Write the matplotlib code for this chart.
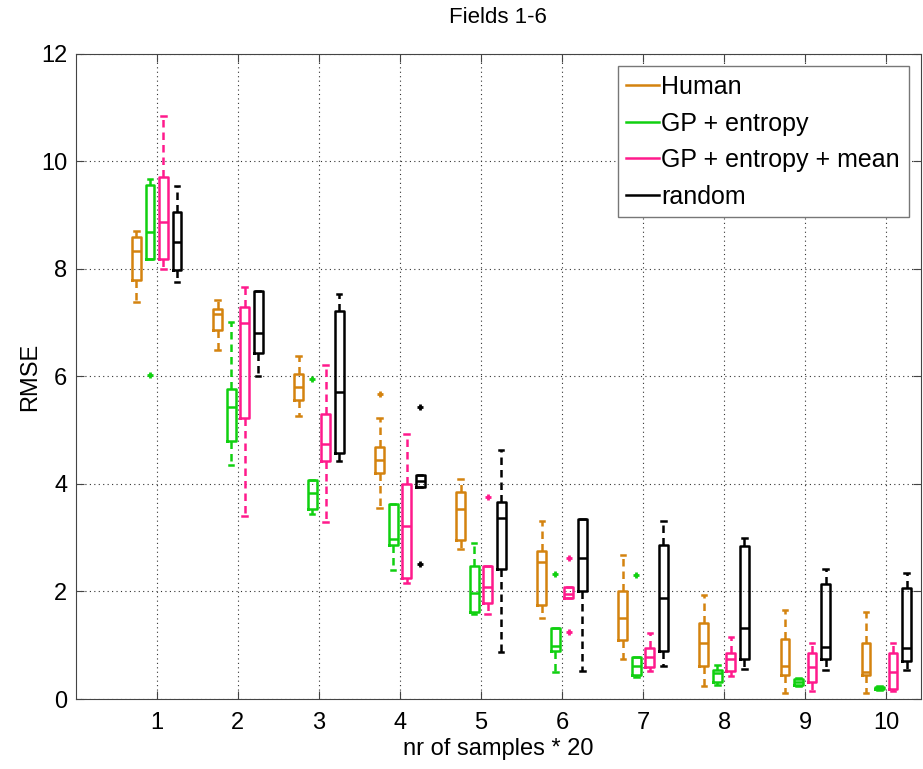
import matplotlib
matplotlib.use("Agg")
import matplotlib.pyplot as plt
from matplotlib.lines import Line2D
import numpy as np

plt.rcParams["font.family"] = ["Liberation Sans", "DejaVu Sans"]

# Sample counts (x groups).
groups = [1, 2, 3, 4, 5, 6, 7, 8, 9, 10]

# Box statistics per method: lower whisker, q1, median, q3, upper whisker.
human_lo = [7.39, 6.50, 5.27, 3.56, 2.79, 1.51, 0.74, 0.25, 0.12, 0.11]
human_q1 = [7.80, 6.87, 5.56, 4.20, 2.95, 1.74, 1.10, 0.61, 0.45, 0.44]
human_med = [8.34, 7.16, 5.81, 4.45, 3.53, 2.54, 1.51, 1.04, 0.61, 0.51]
human_q3 = [8.59, 7.25, 6.05, 4.69, 3.85, 2.76, 2.00, 1.42, 1.11, 1.05]
human_hi = [8.71, 7.42, 6.38, 5.23, 4.10, 3.31, 2.67, 1.93, 1.66, 1.61]
human_out = [[], [], [], [5.67], [], [], [], [], [], []]

ent_lo = [8.19, 4.35, 3.44, 2.40, 1.59, 0.50, 0.41, 0.26, 0.25, 0.17]
ent_q1 = [8.19, 4.79, 3.53, 2.87, 1.62, 0.90, 0.45, 0.32, 0.27, 0.19]
ent_med = [8.68, 5.44, 3.83, 2.97, 1.98, 0.99, 0.62, 0.48, 0.32, 0.20]
ent_q3 = [9.56, 5.76, 4.07, 3.63, 2.47, 1.32, 0.79, 0.54, 0.37, 0.22]
ent_hi = [9.67, 7.02, 4.07, 3.63, 2.90, 1.32, 0.79, 0.63, 0.40, 0.24]
ent_out = [[6.02], [], [5.96], [], [], [2.33], [2.31], [], [], []]

mean_lo = [8.00, 3.40, 3.29, 2.15, 1.58, 1.87, 0.53, 0.43, 0.14, 0.14]
mean_q1 = [8.19, 5.23, 4.42, 2.25, 1.78, 1.87, 0.59, 0.52, 0.31, 0.18]
mean_med = [8.87, 7.00, 4.74, 3.22, 2.08, 1.96, 0.78, 0.74, 0.60, 0.50]
mean_q3 = [9.71, 7.29, 5.30, 4.00, 2.48, 2.08, 0.94, 0.86, 0.85, 0.86]
mean_hi = [10.85, 7.67, 6.21, 4.93, 2.48, 2.08, 1.22, 1.16, 1.05, 1.05]
mean_out = [[], [], [], [], [3.75], [2.63, 1.24], [], [], [], []]

rand_lo = [7.76, 6.00, 4.42, 3.94, 0.87, 0.53, 0.61, 0.56, 0.54, 0.54]
rand_q1 = [7.98, 6.43, 4.57, 3.94, 2.41, 2.01, 0.89, 0.74, 0.74, 0.71]
rand_med = [8.50, 6.80, 5.71, 4.05, 3.37, 2.63, 1.87, 1.33, 0.96, 0.94]
rand_q3 = [9.05, 7.59, 7.22, 4.16, 3.67, 3.35, 2.86, 2.85, 2.14, 2.06]
rand_hi = [9.55, 7.59, 7.53, 4.16, 4.64, 3.35, 3.31, 3.00, 2.41, 2.35]
rand_out = [[], [], [], [5.44, 2.52], [], [], [], [], [], []]

labels = ["Human", "GP + entropy", "GP + entropy + mean", "random"]
colors = ["#D4830F", "#10D010", "#FF1A8C", "black"]
offsets = [-0.25, -0.083, 0.083, 0.25]

methods = [
    (human_lo, human_q1, human_med, human_q3, human_hi, human_out),
    (ent_lo, ent_q1, ent_med, ent_q3, ent_hi, ent_out),
    (mean_lo, mean_q1, mean_med, mean_q3, mean_hi, mean_out),
    (rand_lo, rand_q1, rand_med, rand_q3, rand_hi, rand_out),
]

fig = plt.figure(figsize=(9.23, 7.69), dpi=100)
ax = fig.add_axes([0.082, 0.091, 0.916, 0.839])

for (lo, q1, med, q3, hi, out), color, off in zip(methods, colors, offsets):
    stats = []
    for i in range(len(groups)):
        stats.append({"whislo": lo[i], "q1": q1[i], "med": med[i], "q3": q3[i],
                      "whishi": hi[i], "fliers": out[i]})
    ax.bxp(stats, positions=[g + off for g in groups], widths=0.11,
           manage_ticks=False,
           boxprops=dict(color=color, linewidth=1.8),
           whiskerprops=dict(color=color, linewidth=1.8, linestyle=(0, (3, 2))),
           capprops=dict(color=color, linewidth=1.8),
           medianprops=dict(color=color, linewidth=1.8),
           flierprops=dict(marker="+", markeredgecolor=color, markersize=5,
                           markeredgewidth=2))

ax.set_xlim(0, 10.43)
ax.set_ylim(0, 12)
ax.set_xticks(groups)
ax.set_yticks(np.arange(0, 13, 2))
ax.grid(True, linestyle=(0, (1, 3)), color="#333333", linewidth=0.8)
ax.tick_params(axis="both", direction="in", top=True, right=True, labelsize=17,
               length=6, color="#444444")
ax.tick_params(axis="x", pad=9)
ax.tick_params(axis="y", pad=6)
for s in ax.spines.values():
    s.set_color("#444444")

ax.set_xlabel("nr of samples * 20", fontsize=17, labelpad=3)
ax.set_ylabel("RMSE", fontsize=17, labelpad=0)
ax.set_title("Fields 1-6", fontsize=16, pad=22)

handles = [Line2D([0], [0], color=c, linewidth=1.8) for c in colors]
leg = ax.legend(handles, labels, loc="upper right", fontsize=18, fancybox=False,
                framealpha=1, edgecolor="#777777", handlelength=1.3,
                handletextpad=0.1, labelspacing=0.5, borderpad=0.35,
                borderaxespad=0.5)
leg.get_frame().set_linewidth(1.0)

fig.savefig("out.png", dpi=100)
